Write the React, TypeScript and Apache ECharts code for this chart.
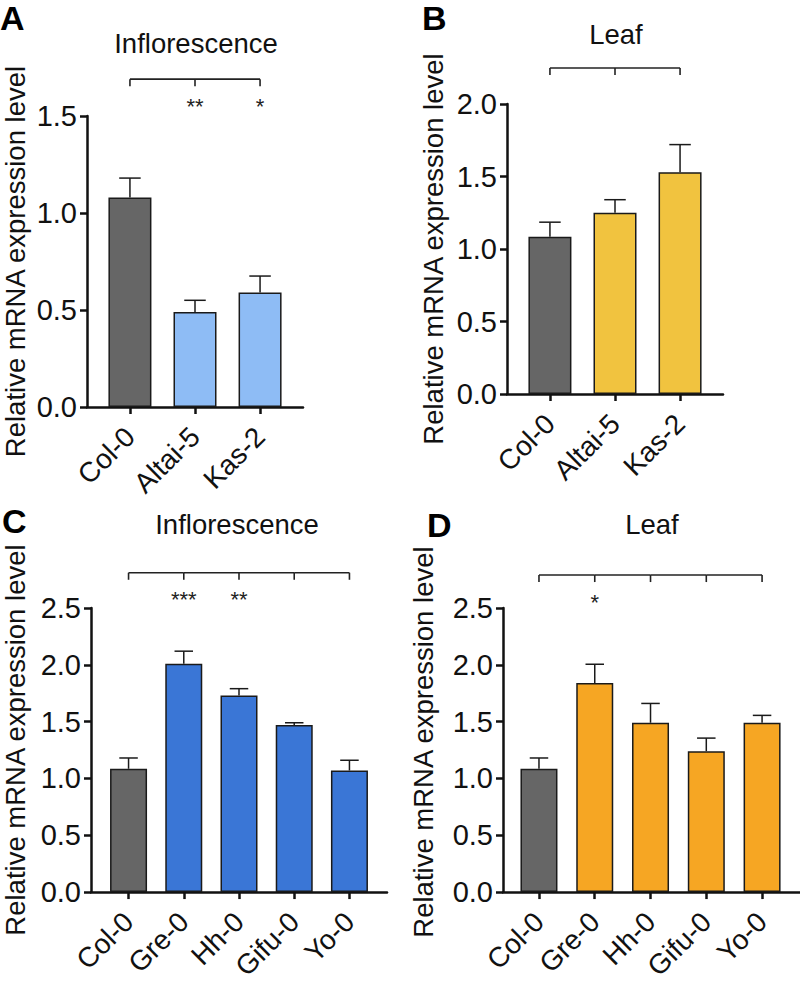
import React, { useEffect, useRef } from "react";
import * as echarts from "echarts";

const FONT = '"Liberation Sans", Arial, Helvetica, sans-serif';

// ---- data ----
const catsAB = ["Col-0", "Altai-5", "Kas-2"];
const catsCD = ["Col-0", "Gre-0", "Hh-0", "Gifu-0", "Yo-0"];

const valsA = [1.08, 0.49, 0.59];
const errA = [0.1, 0.06, 0.085];
const starsA = ["", "**", "*"];

const valsB = [1.085, 1.25, 1.53];
const errB = [0.1, 0.09, 0.19];
const starsB = ["", "", ""];

const valsC = [1.085, 2.01, 1.73, 1.47, 1.07];
const errC = [0.095, 0.11, 0.06, 0.02, 0.09];
const starsC = ["", "***", "**", "", ""];

const valsD = [1.085, 1.84, 1.49, 1.24, 1.49];
const errD = [0.095, 0.165, 0.17, 0.115, 0.065];
const starsD = ["", "*", "", "", ""];

const ticksA = [0, 0.5, 1.0, 1.5];
const ticksB = [0, 0.5, 1.0, 1.5, 2.0];
const ticksCD = [0, 0.5, 1.0, 1.5, 2.0, 2.5];

const titles = ["Inflorescence", "Leaf", "Inflorescence", "Leaf"];
const letters = ["A", "B", "C", "D"];
const yName = "Relative mRNA expression level";

// ---- styles ----
const CONTROL = "#666666";
const INK = "#111111";

const panels = [
  {
    cats: catsAB, vals: valsA, errs: errA, stars: starsA, ticks: ticksA,
    color: "#8ebcf5", bracket: 1.69, xMin: -0.66, xMax: 2.66,
    grid: { left: 87, top: 116, width: 216, height: 291 },
    barWidth: 43, nameGap: 58, namePad: 0,
    title: { x: 196, y: 43 }, letter: { x: 0, y: 18 },
  },
  {
    cats: catsAB, vals: valsB, errs: errB, stars: starsB, ticks: ticksB,
    color: "#f1c33f", bracket: 2.248, xMin: -0.66, xMax: 2.66,
    grid: { left: 507, top: 104, width: 216, height: 290 },
    barWidth: 43, nameGap: 60, namePad: 0,
    title: { x: 616, y: 34 }, letter: { x: 422, y: 18 },
  },
  {
    cats: catsCD, vals: valsC, errs: errC, stars: starsC, ticks: ticksCD,
    color: "#3a76d6", bracket: 2.81, xMin: -0.68, xMax: 4.68,
    grid: { left: 88, top: 608, width: 299, height: 298 },
    barWidth: 37, nameGap: 62, namePad: 20,
    title: { x: 237, y: 524 }, letter: { x: 2, y: 521 },
  },
  {
    cats: catsCD, vals: valsD, errs: errD, stars: starsD, ticks: ticksCD,
    color: "#f6a623", bracket: 2.79, xMin: -0.645, xMax: 4.68,
    grid: { left: 503, top: 608, width: 298, height: 298 },
    barWidth: 37, nameGap: 66, namePad: 16,
    title: { x: 652, y: 524 }, letter: { x: 427, y: 524.5 },
  },
];

function buildOption() {
  const grid: any[] = [];
  const xAxis: any[] = [];
  const yAxis: any[] = [];
  const series: any[] = [];
  const graphic: any[] = [];

  panels.forEach((p, gi) => {
    grid.push({ ...p.grid, containLabel: false });
    const idxs = p.cats.map((_, i) => i);
    xAxis.push({
      type: "value",
      gridIndex: gi,
      min: p.xMin,
      max: p.xMax,
      splitLine: { show: false },
      axisLine: { show: true, onZero: false, lineStyle: { color: INK, width: 2.5 } },
      axisTick: { show: true, customValues: idxs, length: 7, lineStyle: { color: INK, width: 2.5 } },
      axisLabel: {
        show: true,
        customValues: idxs,
        rotate: 45,
        margin: 25,
        fontSize: 28,
        fontFamily: FONT,
        color: INK,
        formatter: (v: number) => p.cats[Math.round(v)] ?? "",
      },
    });
    yAxis.push({
      type: "value",
      gridIndex: gi,
      min: 0,
      max: p.ticks[p.ticks.length - 1],
      interval: 0.5,
      splitLine: { show: false },
      axisLine: { show: true, onZero: false, lineStyle: { color: INK, width: 2.5 } },
      axisTick: { show: true, length: 7, lineStyle: { color: INK, width: 2.5 } },
      axisLabel: {
        margin: 10,
        fontSize: 29,
        fontFamily: FONT,
        color: INK,
        formatter: (v: number) => v.toFixed(1),
      },
      name: yName,
      nameLocation: "middle",
      nameGap: p.nameGap,
      nameTextStyle: {
        fontSize: 27.5,
        fontFamily: FONT,
        color: INK,
        padding: [0, 0, 0, p.namePad],
      },
    });

    series.push({
      type: "bar",
      xAxisIndex: gi,
      yAxisIndex: gi,
      barWidth: p.barWidth,
      data: p.vals.map((v, i) => ({
        value: [i, v],
        itemStyle: { color: i === 0 ? CONTROL : p.color, borderColor: "#1a1a1a", borderWidth: 1.5 },
      })),
      z: 2,
    });

    const cap = p.barWidth / 4;
    series.push({
      type: "custom",
      xAxisIndex: gi,
      yAxisIndex: gi,
      z: 3,
      encode: { x: 0, y: 1 },
      data: p.vals.map((v, i) => [i, v, p.errs[i]]),
      renderItem: (params: any, api: any) => {
        const x = api.value(0);
        const v = api.value(1);
        const e = api.value(2);
        const a = api.coord([x, v]);
        const b = api.coord([x, v + e]);
        const st = { stroke: "#1a1a1a", lineWidth: 1.5 };
        return {
          type: "group",
          children: [
            { type: "line", shape: { x1: a[0], y1: a[1], x2: b[0], y2: b[1] }, style: st },
            { type: "line", shape: { x1: b[0] - cap, y1: b[1], x2: b[0] + cap, y2: b[1] }, style: st },
          ],
        };
      },
    });

    const n = p.cats.length;
    series.push({
      type: "custom",
      xAxisIndex: gi,
      yAxisIndex: gi,
      z: 3,
      clip: false,
      encode: { x: 0, y: 1 },
      data: p.cats.map((_, i) => [i, p.bracket]),
      renderItem: (params: any, api: any) => {
        const i = api.value(0);
        const lvl = api.value(1);
        const a = api.coord([i, lvl]);
        const st = { stroke: "#222222", lineWidth: 1.6 };
        const children: any[] = [
          { type: "line", shape: { x1: a[0], y1: a[1], x2: a[0], y2: a[1] + 7 }, style: st },
        ];
        if (i < n - 1) {
          const b = api.coord([i + 1, lvl]);
          children.push({ type: "line", shape: { x1: a[0], y1: a[1], x2: b[0], y2: b[1] }, style: st });
        }
        const s = p.stars[params.dataIndex];
        if (s) {
          children.push({
            type: "text",
            style: {
              text: s,
              x: a[0],
              y: a[1] + 27,
              align: "center",
              verticalAlign: "middle",
              fontSize: 22,
              fontFamily: FONT,
              fill: "#222222",
            },
          });
        }
        return { type: "group", children };
      },
    });

    graphic.push({
      type: "text",
      x: p.title.x,
      y: p.title.y,
      style: {
        text: titles[gi],
        align: "center",
        verticalAlign: "middle",
        fontSize: 27.5,
        fontFamily: FONT,
        fill: INK,
      },
    });
    graphic.push({
      type: "text",
      x: p.letter.x,
      y: p.letter.y,
      style: {
        text: letters[gi],
        align: "left",
        verticalAlign: "middle",
        fontSize: 34,
        fontWeight: "bold",
        fontFamily: FONT,
        fill: "#000000",
      },
    });
  });

  return {
    animation: false,
    backgroundColor: "#ffffff",
    grid,
    xAxis,
    yAxis,
    series,
    graphic,
  };
}

export default function App() {
  const ref = useRef<HTMLDivElement>(null);
  useEffect(() => {
    if (!ref.current) return;
    const chart = echarts.init(ref.current, undefined, { renderer: "svg" });
    chart.setOption(buildOption() as any);
    return () => chart.dispose();
  }, []);
  return (
    <div
      ref={ref}
      style={{ position: "absolute", left: 0, top: 0, width: 800, height: 983, background: "#fff" }}
    />
  );
}
